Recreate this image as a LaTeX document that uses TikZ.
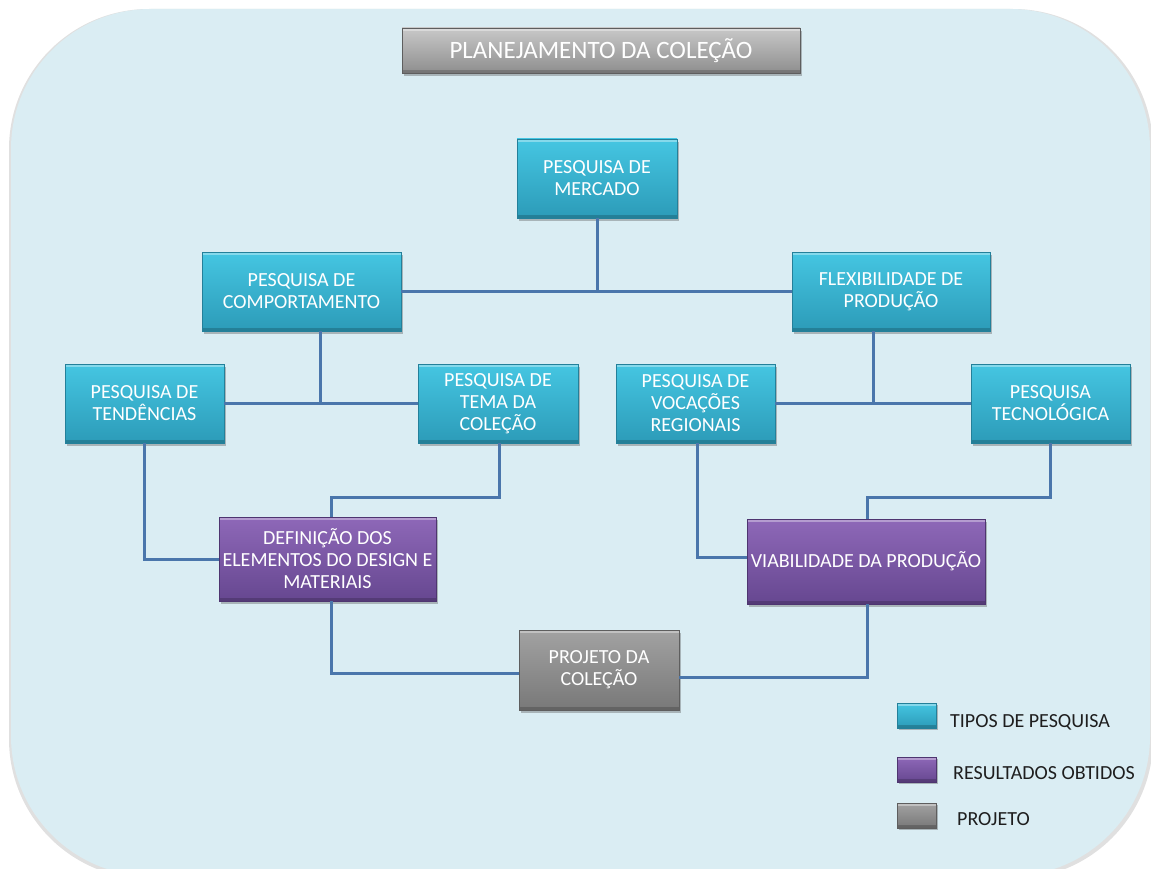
\documentclass[tikz,border=0pt]{standalone}
\usepackage{fontspec}
\setmainfont{Carlito}
\usetikzlibrary{shadows}
\definecolor{bgblue}{HTML}{DAEDF3}
\definecolor{cyanT}{HTML}{45C6E2}
\definecolor{cyanB}{HTML}{2C9BB8}
\definecolor{cyanD}{HTML}{23809A}
\definecolor{purT}{HTML}{8E68B8}
\definecolor{purB}{HTML}{664790}
\definecolor{purD}{HTML}{4E3570}
\definecolor{grT}{HTML}{A2A2A2}
\definecolor{grB}{HTML}{787878}
\definecolor{grD}{HTML}{5E5E5E}
\definecolor{tiT}{HTML}{C8C8C8}
\definecolor{tiB}{HTML}{8E8E8E}
\definecolor{conn}{HTML}{4A76AB}
\definecolor{legtext}{HTML}{1E1E1E}
\tikzset{
  bevel/.style={path picture={
    \draw[white, opacity=0.35, line width=2.5pt]
      ([yshift=-1.5pt]path picture bounding box.north west) -- ([yshift=-1.5pt]path picture bounding box.north east);
    \draw[black, opacity=0.18, line width=2.5pt]
      ([yshift=1.5pt]path picture bounding box.south west) -- ([yshift=1.5pt]path picture bounding box.south east);}},
  basebox/.style={rectangle, text=white, align=center, inner sep=2pt,
    line width=0.6pt, font=\fontsize{20}{22}\selectfont, bevel,
    drop shadow={shadow xshift=2pt, shadow yshift=-3pt, opacity=0.35, fill=black!70}},
  cbox/.style={basebox, draw=cyanD, top color=cyanT, bottom color=cyanB},
  pbox/.style={basebox, draw=purD, top color=purT, bottom color=purB},
  gbox/.style={basebox, draw=grD, top color=grT, bottom color=grB},
  tbox/.style={basebox, draw=grD, top color=tiT, bottom color=tiB, font=\fontsize{25}{28}\selectfont},
  lbox/.style={rectangle, line width=0.5pt, minimum width=39pt, minimum height=25pt, bevel,
    drop shadow={shadow xshift=1.5pt, shadow yshift=-2pt, opacity=0.35, fill=black!70}},
  legtxt/.style={anchor=west, text=legtext, inner sep=0pt, font=\fontsize{20}{22}\selectfont},
  link/.style={draw=conn, line width=3pt}
}
\begin{document}
\begin{tikzpicture}[x=1pt, y=-1pt]
\useasboundingbox (0,0) rectangle (1151,869);
\begin{scope}
\clip (0,0) rectangle (1151,869);
\fill[black, opacity=0.12, rounded corners=140pt] (9,9) rectangle (1153,879);
\fill[bgblue, rounded corners=140pt] (11,9) rectangle (1150,876);
\end{scope}

% title
\node[tbox, minimum width=398pt, minimum height=45pt] (title) at (601,50.5) {PLANEJAMENTO DA COLEÇÃO};

% boxes
\node[cbox, minimum width=160pt, minimum height=79pt] (merc) at (597,178.5) {PESQUISA DE\\MERCADO};
\node[cbox, minimum width=199pt, minimum height=79pt] (comp) at (301.5,291.5) {PESQUISA DE\\COMPORTAMENTO};
\node[cbox, minimum width=198pt, minimum height=79pt] (flex) at (891,291.5) {FLEXIBILIDADE DE\\PRODUÇÃO};
\node[cbox, minimum width=159pt, minimum height=79pt] (tend) at (144.5,403.5) {PESQUISA DE\\TENDÊNCIAS};
\node[cbox, minimum width=160pt, minimum height=79pt] (tema) at (498,403.5) {PESQUISA DE\\TEMA DA\\COLEÇÃO};
\node[cbox, minimum width=159pt, minimum height=79pt] (voc) at (695.5,403.5) {PESQUISA DE\\VOCAÇÕES\\REGIONAIS};
\node[cbox, minimum width=159pt, minimum height=79pt] (tec) at (1050.5,403.5) {PESQUISA\\TECNOLÓGICA};
\node[pbox, minimum width=217pt, minimum height=84pt] (def) at (327.5,559) {DEFINIÇÃO DOS\\ELEMENTOS DO DESIGN E\\MATERIAIS};
\node[pbox, minimum width=238pt, minimum height=85pt] (via) at (866,561.5) {VIABILIDADE DA PRODUÇÃO};
\node[gbox, minimum width=160pt, minimum height=80pt] (proj) at (599,670) {PROJETO DA\\COLEÇÃO};

% connectors
\path[link] (merc.south) -- (merc.south |- comp.east);
\path[link] (comp.east) -- (flex.west);
\path[link] ([xshift=18.5pt]comp.south) -- ([xshift=18.5pt]comp.south |- tend.east);
\path[link] (tend.east) -- (tema.west);
\path[link] ([xshift=-18pt]flex.south) -- ([xshift=-18pt]flex.south |- voc.east);
\path[link] (voc.east) -- (tec.west);
\path[link] (tend.south) |- (def.west);
\path[link] ([xshift=1pt]tema.south) -- ++(0,54) -| ([xshift=3.5pt]def.north);
\path[link] ([xshift=1.5pt]voc.south) |- ([yshift=4.5pt]via.west);
\path[link] (tec.south) -- ++(0,54) -| ([xshift=1pt]via.north);
\path[link] ([xshift=3.5pt]def.south) |- ([yshift=-3pt]proj.west);
\path[link] ([xshift=1pt]via.south) |- ([yshift=-7pt]proj.east);

% legend
\node[lbox, draw=cyanD, top color=cyanT, bottom color=cyanB] (l1) at (916.5,715.5) {};
\node[lbox, draw=purD, top color=purT, bottom color=purB] (l2) at (916.5,769.5) {};
\node[lbox, draw=grD, top color=grT, bottom color=grB] (l3) at (916.5,815.5) {};
\node[legtxt] (t1) at (950,722) {TIPOS DE PESQUISA};
\node[legtxt] (t2) at (953,773) {RESULTADOS OBTIDOS};
\node[legtxt] (t3) at (957,819) {PROJETO};
\end{tikzpicture}
\end{document}
